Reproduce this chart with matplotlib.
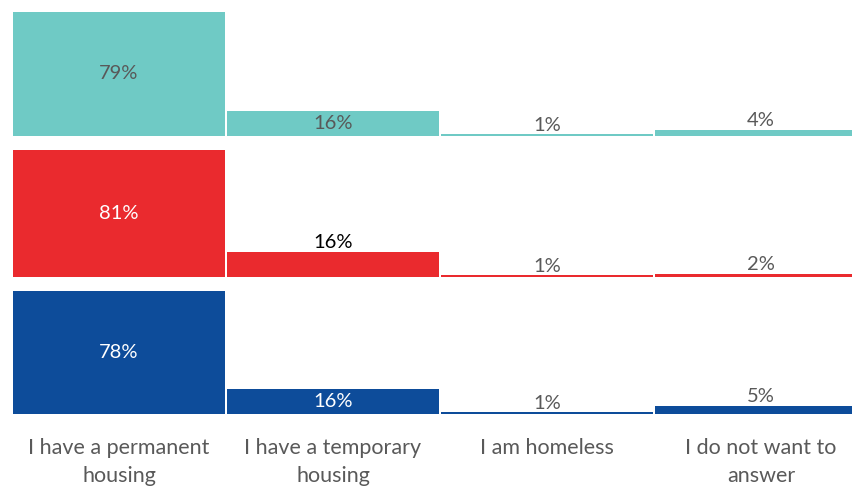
import numpy as np
import matplotlib.pyplot as plt

plt.rcParams['font.family'] = ['Lato', 'DejaVu Sans']

categories = ["I have a permanent\nhousing", "I have a temporary\nhousing",
              "I am homeless", "I do not want to\nanswer"]
row_values = [
    [79, 16, 1, 4],
    [81, 16, 1, 2],
    [78, 16, 1, 5],
]
row_colors = ["#6fcac5", "#ea2a2e", "#0d4c9a"]

gray = "#595959"
# label colour and placement per bar: (colour, inside?)
label_styles = [
    [(gray, True), (gray, True), (gray, False), (gray, False)],
    [("white", True), ("black", False), (gray, False), (gray, False)],
    [("white", True), ("white", True), (gray, False), (gray, False)],
]

W, H = 852, 486
fig = plt.figure(figsize=(W / 100, H / 100), dpi=100)

left, right = 12, 868
baselines = [136, 277, 414]
panel_h = 128
ymax = 81.5
fs = 14.5

x = np.arange(len(categories))
for r, vals in enumerate(row_values):
    ax = fig.add_axes([left / W, 1 - baselines[r] / H, (right - left) / W, panel_h / H])
    ax.bar(x, vals, width=0.992, color=row_colors[r], linewidth=0)
    ax.set_xlim(-0.5, len(categories) - 0.5)
    ax.set_ylim(0, ymax)
    ax.axis("off")
    for i, v in enumerate(vals):
        col, inside = label_styles[r][i]
        if inside:
            ax.text(i, v / 2, f"{v}%", ha="center", va="center", color=col, fontsize=fs)
        else:
            ax.annotate(f"{v}%", (i, v), xytext=(0, 0.5), textcoords="offset points",
                        ha="center", va="bottom", color=col, fontsize=fs)
    if r == len(row_values) - 1:
        for i, c in enumerate(categories):
            ax.annotate(c, (i, 0), xytext=(0, -17), textcoords="offset points",
                        ha="center", va="top", color=gray, fontsize=15.5,
                        linespacing=1.55, annotation_clip=False)

fig.savefig("out.png", dpi=100)
